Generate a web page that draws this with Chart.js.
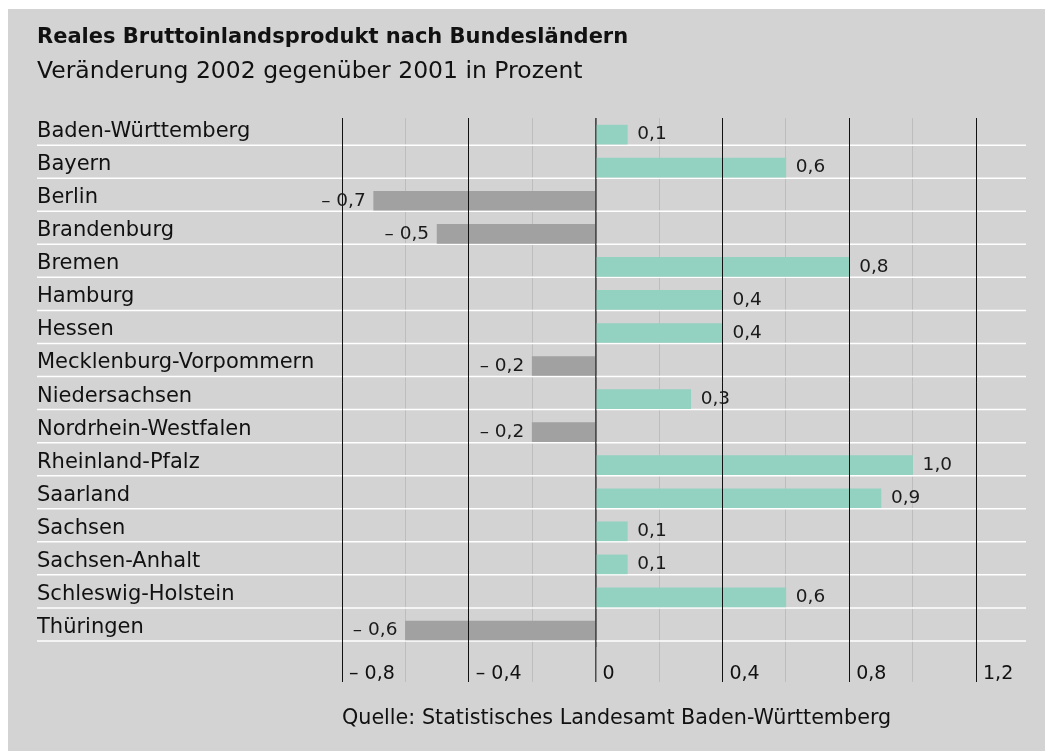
<!DOCTYPE html>
<html>
<head>
<meta charset="utf-8">
<script src="https://cdn.jsdelivr.net/npm/chart.js@4.4.1/dist/chart.umd.min.js"></script>
<style>
  body { margin: 0; background: #ffffff; }
  #box { position: absolute; left: 8px; top: 9px; width: 1037px; height: 742px; background: #d3d3d3; }
</style>
</head>
<body>
<div id="box"><canvas id="barChart"></canvas></div>
<script>
const laender = [
  "Baden-Württemberg", "Bayern", "Berlin", "Brandenburg", "Bremen", "Hamburg",
  "Hessen", "Mecklenburg-Vorpommern", "Niedersachsen", "Nordrhein-Westfalen",
  "Rheinland-Pfalz", "Saarland", "Sachsen", "Sachsen-Anhalt",
  "Schleswig-Holstein", "Thüringen"
];
const veraenderung = [0.1, 0.6, -0.7, -0.5, 0.8, 0.4, 0.4, -0.2, 0.3, -0.2, 1.0, 0.9, 0.1, 0.1, 0.6, -0.6];
const tickWerte = [-0.8, -0.6, -0.4, -0.2, 0, 0.2, 0.4, 0.6, 0.8, 1.0, 1.2];

const FONT = "'DejaVu Sans', sans-serif";

// Zahl im deutschen Format, mit Gedankenstrich vor negativen Werten
function formatWert(v) {
  if (Math.round(v * 10) === 0) return "0";
  const s = Math.abs(v).toFixed(1).replace(".", ",");
  return v < 0 ? "\u2013 " + s : s;
}

function isMajor(v) {
  return Math.round(v * 10) % 4 === 0;
}

function gridFarbe(v) {
  const k = Math.round(v * 10);
  if (k === 0) return "#4d4d4d";
  if (k % 4 === 0) return "#111111";
  return "#bdbdbd";
}

function gridBreite(v) {
  return Math.round(v * 10) === 0 ? 1.5 : 1;
}

// weisse Trennlinien unter jeder Zeile
const trennlinien = {
  id: "trennlinien",
  beforeDatasetsDraw(chart) {
    const { ctx, chartArea, scales } = chart;
    const y = scales.y;
    ctx.save();
    ctx.strokeStyle = "#ffffff";
    ctx.lineWidth = 1.5;
    laender.forEach((_, i) => {
      const py = y.getPixelForValue(i) + 10.5;
      ctx.beginPath();
      ctx.moveTo(y.left, py);
      ctx.lineTo(chartArea.right, py);
      ctx.stroke();
    });
    ctx.restore();
  }
};

// schwarze Hauptlinien ueber den Balken, dann Wertbeschriftung
const oberlinien = {
  id: "oberlinien",
  afterDatasetsDraw(chart) {
    const { ctx, chartArea, scales } = chart;
    const x = scales.x;
    ctx.save();
    tickWerte.filter(isMajor).forEach((v) => {
      const w = gridBreite(v);
      const px = Math.round(x.getPixelForValue(v) - w / 2) + w / 2;
      ctx.strokeStyle = gridFarbe(v);
      ctx.lineWidth = w;
      ctx.beginPath();
      ctx.moveTo(px, chartArea.top);
      ctx.lineTo(px, chartArea.bottom);
      ctx.stroke();
    });

    const meta = chart.getDatasetMeta(0);
    ctx.font = "18.5px " + FONT;
    ctx.fillStyle = "#1a1a1a";
    ctx.textBaseline = "middle";
    meta.data.forEach((bar, i) => {
      const v = veraenderung[i];
      if (v >= 0) {
        ctx.textAlign = "left";
        ctx.fillText(formatWert(v), bar.x + 10, bar.y);
      } else {
        ctx.textAlign = "right";
        ctx.fillText(formatWert(v), bar.x - 8, bar.y);
      }
    });
    ctx.restore();
  }
};

const barChart = document.querySelector("#barChart");
const graph = new Chart(barChart, {
  type: "bar",
  data: {
    labels: laender,
    datasets: [
      {
        data: veraenderung,
        backgroundColor: veraenderung.map((v) => (v >= 0 ? "#93d1c1" : "#a1a1a1")),
        borderWidth: 0,
        barThickness: 19,
      },
    ],
  },
  options: {
    indexAxis: "y",
    responsive: true,
    maintainAspectRatio: false,
    animation: false,
    layout: {
      padding: { left: 29, right: 19, top: 0, bottom: 0 },
    },
    scales: {
      x: {
        type: "linear",
        min: -0.8,
        max: 1.3577,
        afterBuildTicks: (scale) => {
          scale.ticks = tickWerte.map((v) => ({ value: v }));
        },
        afterFit: (scale) => {
          scale.height = 104;
        },
        border: { display: false },
        grid: {
          drawOnChartArea: true,
          drawTicks: true,
          tickLength: 35,
          color: (ctx) => gridFarbe(ctx.tick ? ctx.tick.value : 0),
          lineWidth: (ctx) => gridBreite(ctx.tick ? ctx.tick.value : 0),
        },
        ticks: {
          autoSkip: false,
          maxRotation: 0,
          align: "start",
          labelOffset: 7,
          padding: -19,
          color: "#111111",
          font: { family: FONT, size: 19 },
          callback: (v) => (isMajor(v) ? formatWert(v) : ""),
        },
        title: {
          display: true,
          text: "Quelle: Statistisches Landesamt Baden-Württemberg",
          align: "start",
          color: "#111111",
          font: { family: FONT, size: 20.7 },
          padding: { top: 0, bottom: 20 },
        },
      },
      y: {
        afterFit: (scale) => {
          scale.width = 305;
        },
        border: { display: false },
        grid: { display: false },
        ticks: {
          autoSkip: false,
          crossAlign: "far",
          labelOffset: -3,
          color: "#111111",
          font: { family: FONT, size: 21 },
        },
      },
    },
    plugins: {
      legend: { display: false },
      tooltip: { enabled: false },
      title: {
        display: true,
        text: "Reales Bruttoinlandsprodukt nach Bundesländern",
        align: "start",
        color: "#111111",
        font: { family: FONT, size: 21, weight: "bold" },
        padding: { top: 16.4, bottom: 0 },
      },
      subtitle: {
        display: true,
        text: "Veränderung 2002 gegenüber 2001 in Prozent",
        align: "start",
        color: "#111111",
        font: { family: FONT, size: 23.5 },
        padding: { top: 7.3, bottom: 32 },
      },
    },
  },
  plugins: [trennlinien, oberlinien],
});
</script>
</body>
</html>
